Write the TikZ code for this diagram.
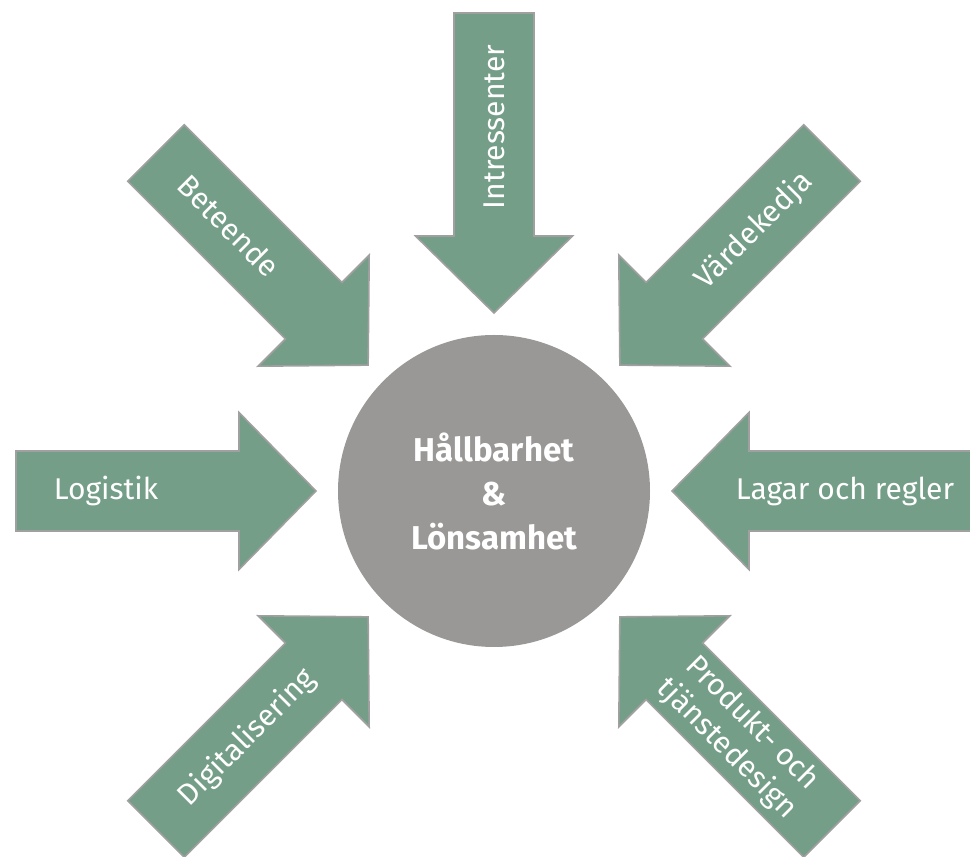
\documentclass[tikz,border=0pt]{standalone}
\usepackage{fontspec}
\setmainfont{Fira Sans}
\definecolor{arrowgreen}{RGB}{116,158,135}
\definecolor{arrowedge}{RGB}{160,160,160}
\definecolor{hubgrey}{RGB}{153,152,150}
\tikzset{
  bigarrow/.style={fill=arrowgreen, draw=arrowedge, line width=1.6pt, line join=miter},
  lbl/.style={text=white, font=\fontsize{30}{36}\selectfont, align=center, inner sep=0pt},
  hub/.style={circle, fill=hubgrey, draw=none, minimum size=312pt, text=white,
    font=\bfseries\fontsize{33}{44}\selectfont, align=center}
}
\newcommand\inarrow[1]{%
  \draw[bigarrow, rotate=#1] (178,0) -- (255,78.5) -- (255,40) -- (478,40) -- (478,-40) -- (255,-40) -- (255,-78.5) -- cycle;}
\begin{document}
\begin{tikzpicture}[x=1pt,y=1pt]
\useasboundingbox (0,0) rectangle (970,857);
\begin{scope}[shift={(494,366)}]
  \inarrow{90}
  \inarrow{135}
  \inarrow{45}
  \inarrow{180}
  \inarrow{0}
  \inarrow{225}
  \inarrow{315}
  \node[hub] (hub) at (0,0) {Hållbarhet\\\&\\Lönsamhet};
  \node[lbl, rotate=90] (intressenter) at (90:364) {Intressenter};
  \node[lbl, rotate=-45] (beteende) at (135:375) {Beteende};
  \node[lbl, rotate=45] (vardekedja) at (45:368) {Värdekedja};
  \node[lbl] (logistik) at (180:388) {Logistik};
  \node[lbl] (lagar) at (0:351) {Lagar och regler};
  \node[lbl, rotate=45] (digital) at (225:349) {Digitalisering};
  \node[lbl, rotate=-45] (produkt) at (315:347) {Produkt- och\\tjänstedesign};
\end{scope}
\end{tikzpicture}
\end{document}
